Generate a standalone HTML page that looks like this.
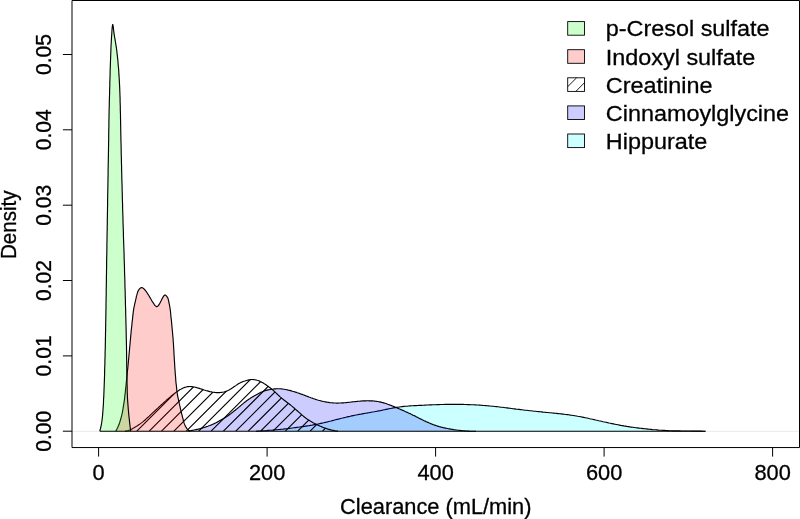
<!DOCTYPE html>
<html><head><meta charset="utf-8"><title>Density</title>
<style>
html,body{margin:0;padding:0;background:#fff}
svg{display:block}
text{font-family:"Liberation Sans",Arial,sans-serif;fill:#000;stroke:#000;stroke-width:0.3px}
</style></head><body>
<svg width="800" height="519" viewBox="0 0 800 519">
<rect width="800" height="519" fill="#fff"/>
<defs><clipPath id="cc"><path d="M125.0 431.2 L125.8 431.1 L126.7 431.0 L127.5 430.8 L128.3 430.6 L129.0 430.3 L129.8 430.0 L130.6 429.6 L131.3 429.3 L132.0 428.9 L132.8 428.5 L133.5 428.1 L134.2 427.7 L134.9 427.2 L135.6 426.8 L136.4 426.4 L137.1 425.9 L137.8 425.5 L138.4 425.0 L139.1 424.6 L139.8 424.1 L140.5 423.6 L141.1 423.1 L141.8 422.6 L142.4 422.1 L143.1 421.6 L143.7 421.1 L144.4 420.5 L145.0 420.0 L145.6 419.4 L146.2 418.9 L146.8 418.3 L147.4 417.8 L148.1 417.2 L148.7 416.6 L149.3 416.1 L149.9 415.5 L150.5 414.9 L151.1 414.4 L151.7 413.8 L152.3 413.2 L152.9 412.6 L153.5 412.1 L154.1 411.5 L154.7 411.0 L155.3 410.4 L156.0 409.8 L156.6 409.3 L157.2 408.7 L157.8 408.1 L158.4 407.6 L159.0 407.0 L159.6 406.4 L160.2 405.9 L160.8 405.3 L161.4 404.8 L162.1 404.2 L162.7 403.7 L163.3 403.1 L163.9 402.5 L164.5 402.0 L165.1 401.4 L165.7 400.9 L166.3 400.3 L166.9 399.8 L167.6 399.3 L168.2 398.7 L168.8 398.2 L169.4 397.6 L170.0 397.1 L170.7 396.6 L171.3 396.0 L171.9 395.5 L172.6 395.0 L173.2 394.5 L173.9 393.9 L174.5 393.4 L175.2 392.9 L175.9 392.4 L176.6 391.9 L177.3 391.4 L178.0 391.0 L178.7 390.5 L179.4 390.0 L180.1 389.6 L180.9 389.2 L181.6 388.8 L182.4 388.4 L183.1 388.0 L183.9 387.7 L184.7 387.4 L185.5 387.2 L186.2 387.0 L187.0 386.8 L187.8 386.6 L188.6 386.6 L189.4 386.5 L190.3 386.5 L191.1 386.6 L191.9 386.6 L192.7 386.7 L193.5 386.9 L194.3 387.0 L195.2 387.2 L196.0 387.4 L196.8 387.7 L197.6 387.9 L198.5 388.1 L199.3 388.4 L200.1 388.7 L200.9 388.9 L201.7 389.2 L202.5 389.4 L203.3 389.7 L204.1 390.0 L204.9 390.2 L205.7 390.5 L206.5 390.7 L207.4 390.9 L208.2 391.1 L209.0 391.4 L209.8 391.6 L210.6 391.7 L211.4 391.9 L212.2 392.1 L213.0 392.2 L213.8 392.3 L214.6 392.4 L215.4 392.5 L216.2 392.6 L217.1 392.6 L217.9 392.6 L218.7 392.6 L219.5 392.6 L220.4 392.5 L221.2 392.4 L222.0 392.3 L222.8 392.2 L223.7 392.0 L224.5 391.8 L225.3 391.6 L226.0 391.3 L226.8 391.0 L227.6 390.7 L228.3 390.3 L229.1 389.9 L229.8 389.5 L230.5 389.1 L231.2 388.7 L231.9 388.2 L232.6 387.8 L233.3 387.3 L234.0 386.8 L234.7 386.3 L235.4 385.9 L236.1 385.4 L236.7 384.9 L237.4 384.5 L238.1 384.0 L238.8 383.6 L239.5 383.2 L240.3 382.8 L241.0 382.4 L241.8 382.1 L242.5 381.8 L243.3 381.5 L244.1 381.2 L244.9 381.0 L245.7 380.7 L246.5 380.5 L247.3 380.3 L248.1 380.1 L248.9 379.9 L249.7 379.7 L250.5 379.6 L251.4 379.5 L252.2 379.5 L253.0 379.5 L253.8 379.6 L254.7 379.7 L255.5 379.9 L256.3 380.0 L257.1 380.3 L257.9 380.5 L258.7 380.8 L259.5 381.1 L260.2 381.5 L261.0 381.8 L261.7 382.2 L262.5 382.6 L263.2 383.0 L263.9 383.4 L264.6 383.9 L265.3 384.3 L266.0 384.8 L266.6 385.3 L267.3 385.8 L268.0 386.2 L268.7 386.7 L269.3 387.2 L270.0 387.7 L270.6 388.2 L271.3 388.8 L271.9 389.3 L272.6 389.8 L273.2 390.4 L273.8 390.9 L274.4 391.5 L275.0 392.0 L275.6 392.6 L276.2 393.2 L276.8 393.8 L277.4 394.3 L278.0 394.9 L278.6 395.5 L279.2 396.0 L279.8 396.6 L280.5 397.1 L281.1 397.7 L281.7 398.2 L282.4 398.7 L283.0 399.3 L283.6 399.8 L284.3 400.3 L285.0 400.8 L285.6 401.3 L286.3 401.8 L286.9 402.3 L287.6 402.8 L288.2 403.3 L288.9 403.8 L289.6 404.3 L290.2 404.8 L290.9 405.4 L291.5 405.9 L292.2 406.4 L292.8 406.9 L293.4 407.5 L294.1 408.0 L294.7 408.5 L295.3 409.1 L295.9 409.6 L296.6 410.2 L297.2 410.7 L297.8 411.3 L298.4 411.8 L299.0 412.4 L299.7 412.9 L300.3 413.5 L300.9 414.0 L301.5 414.6 L302.2 415.1 L302.8 415.6 L303.4 416.2 L304.1 416.7 L304.7 417.2 L305.4 417.7 L306.0 418.2 L306.7 418.7 L307.4 419.2 L308.1 419.6 L308.8 420.1 L309.5 420.5 L310.2 421.0 L310.9 421.4 L311.6 421.8 L312.3 422.3 L313.0 422.7 L313.8 423.1 L314.5 423.5 L315.2 423.8 L316.0 424.2 L316.7 424.6 L317.5 424.9 L318.2 425.3 L319.0 425.6 L319.7 426.0 L320.5 426.3 L321.3 426.6 L322.0 426.9 L322.8 427.3 L323.6 427.6 L324.3 427.9 L325.1 428.1 L325.9 428.4 L326.7 428.7 L327.5 428.9 L328.3 429.2 L329.1 429.4 L329.9 429.6 L330.7 429.8 L331.5 430.1 L332.3 430.2 L333.1 430.4 L333.9 430.6 L334.7 430.7 L335.5 430.9 L336.3 431.0 L337.2 431.1 L338.0 431.2 Z"/></clipPath></defs>
<line x1="72" y1="431.4" x2="799" y2="431.4" stroke="#ebebeb" stroke-width="1"/>
<g stroke="#000" stroke-width="1.15" stroke-linejoin="round" fill="none">
<path d="M256.0 431.2 L257.5 431.1 L259.0 431.0 L260.5 431.0 L262.1 430.9 L263.6 430.8 L265.1 430.7 L266.6 430.6 L268.1 430.4 L269.6 430.3 L271.1 430.2 L272.7 430.1 L274.2 429.9 L275.7 429.8 L277.2 429.7 L278.7 429.5 L280.2 429.4 L281.7 429.2 L283.2 429.1 L284.7 428.9 L286.2 428.7 L287.8 428.6 L289.3 428.4 L290.8 428.2 L292.3 428.0 L293.8 427.8 L295.3 427.6 L296.8 427.4 L298.3 427.2 L299.8 427.0 L301.3 426.8 L302.8 426.6 L304.3 426.4 L305.8 426.1 L307.3 425.9 L308.8 425.7 L310.3 425.4 L311.8 425.2 L313.3 424.9 L314.8 424.6 L316.3 424.3 L317.8 424.1 L319.3 423.7 L320.7 423.4 L322.2 423.1 L323.7 422.8 L325.2 422.4 L326.6 422.1 L328.1 421.7 L329.6 421.3 L331.1 421.0 L332.5 420.6 L334.0 420.2 L335.5 419.8 L336.9 419.4 L338.4 419.1 L339.9 418.7 L341.4 418.3 L342.8 418.0 L344.3 417.6 L345.8 417.3 L347.3 416.9 L348.8 416.6 L350.2 416.3 L351.7 415.9 L353.2 415.6 L354.7 415.3 L356.2 415.0 L357.7 414.7 L359.2 414.4 L360.6 414.2 L362.1 413.9 L363.6 413.6 L365.1 413.3 L366.6 413.1 L368.1 412.8 L369.6 412.6 L371.1 412.3 L372.6 412.0 L374.1 411.8 L375.6 411.5 L377.1 411.2 L378.6 410.9 L380.1 410.7 L381.5 410.4 L383.0 410.0 L384.5 409.7 L386.0 409.4 L387.5 409.1 L389.0 408.8 L390.5 408.5 L391.9 408.2 L393.4 407.9 L394.9 407.6 L396.4 407.4 L397.9 407.2 L399.4 407.0 L400.9 406.8 L402.4 406.6 L403.9 406.4 L405.5 406.3 L407.0 406.2 L408.5 406.0 L410.0 405.9 L411.5 405.8 L413.0 405.7 L414.6 405.6 L416.1 405.6 L417.6 405.5 L419.1 405.4 L420.6 405.3 L422.1 405.3 L423.7 405.2 L425.2 405.1 L426.7 405.0 L428.2 405.0 L429.7 404.9 L431.2 404.9 L432.8 404.8 L434.3 404.7 L435.8 404.7 L437.3 404.6 L438.8 404.6 L440.3 404.5 L441.9 404.5 L443.4 404.5 L444.9 404.4 L446.4 404.4 L447.9 404.4 L449.4 404.4 L451.0 404.4 L452.5 404.4 L454.0 404.4 L455.5 404.4 L457.0 404.4 L458.5 404.4 L460.1 404.4 L461.6 404.4 L463.1 404.4 L464.6 404.5 L466.1 404.5 L467.7 404.6 L469.2 404.6 L470.7 404.7 L472.2 404.7 L473.7 404.8 L475.2 404.9 L476.7 405.0 L478.3 405.0 L479.8 405.1 L481.3 405.2 L482.8 405.4 L484.3 405.5 L485.8 405.6 L487.3 405.7 L488.9 405.9 L490.4 406.0 L491.9 406.2 L493.4 406.3 L494.9 406.5 L496.4 406.6 L497.9 406.8 L499.4 407.0 L500.9 407.2 L502.4 407.3 L503.9 407.5 L505.4 407.7 L507.0 407.9 L508.5 408.1 L510.0 408.3 L511.5 408.5 L513.0 408.7 L514.5 408.9 L516.0 409.1 L517.5 409.2 L519.0 409.4 L520.5 409.6 L522.0 409.8 L523.5 410.0 L525.0 410.2 L526.5 410.3 L528.0 410.5 L529.5 410.7 L531.1 410.8 L532.6 411.0 L534.1 411.2 L535.6 411.3 L537.1 411.5 L538.6 411.6 L540.1 411.8 L541.6 411.9 L543.1 412.1 L544.6 412.2 L546.1 412.4 L547.7 412.5 L549.2 412.7 L550.7 412.8 L552.2 413.0 L553.7 413.1 L555.2 413.3 L556.7 413.4 L558.2 413.6 L559.7 413.8 L561.3 413.9 L562.8 414.1 L564.3 414.3 L565.8 414.5 L567.3 414.6 L568.8 414.8 L570.3 415.1 L571.8 415.3 L573.3 415.5 L574.8 415.7 L576.3 416.0 L577.8 416.3 L579.3 416.5 L580.8 416.8 L582.2 417.1 L583.7 417.4 L585.2 417.7 L586.7 418.0 L588.2 418.3 L589.7 418.7 L591.2 419.0 L592.6 419.3 L594.1 419.6 L595.6 420.0 L597.1 420.3 L598.6 420.7 L600.0 421.0 L601.5 421.3 L603.0 421.7 L604.5 422.0 L606.0 422.3 L607.5 422.6 L608.9 423.0 L610.4 423.3 L611.9 423.6 L613.4 423.9 L614.9 424.2 L616.4 424.5 L617.9 424.8 L619.4 425.1 L620.8 425.4 L622.3 425.6 L623.8 425.9 L625.3 426.1 L626.8 426.4 L628.3 426.6 L629.8 426.9 L631.3 427.1 L632.8 427.3 L634.3 427.5 L635.8 427.7 L637.3 427.9 L638.8 428.1 L640.4 428.3 L641.9 428.4 L643.4 428.6 L644.9 428.8 L646.4 428.9 L647.9 429.1 L649.4 429.3 L650.9 429.4 L652.4 429.6 L653.9 429.7 L655.5 429.8 L657.0 429.9 L658.5 430.1 L660.0 430.2 L661.5 430.3 L663.0 430.4 L664.5 430.4 L666.0 430.5 L667.6 430.6 L669.1 430.7 L670.6 430.7 L672.1 430.8 L673.6 430.8 L675.1 430.8 L676.7 430.9 L678.2 430.9 L679.7 430.9 L681.2 431.0 L682.7 431.0 L684.3 431.0 L685.8 431.0 L687.3 431.0 L688.8 431.0 L690.3 431.0 L691.8 431.1 L693.4 431.1 L694.9 431.1 L696.4 431.1 L697.9 431.1 L699.4 431.1 L701.0 431.1 L702.5 431.2 L704.0 431.2 L705.5 431.2 Z" fill="rgba(0,255,255,0.2)" stroke="none"/>
<path d="M256.0 431.2 L257.5 431.1 L259.0 431.0 L260.5 431.0 L262.1 430.9 L263.6 430.8 L265.1 430.7 L266.6 430.6 L268.1 430.4 L269.6 430.3 L271.1 430.2 L272.7 430.1 L274.2 429.9 L275.7 429.8 L277.2 429.7 L278.7 429.5 L280.2 429.4 L281.7 429.2 L283.2 429.1 L284.7 428.9 L286.2 428.7 L287.8 428.6 L289.3 428.4 L290.8 428.2 L292.3 428.0 L293.8 427.8 L295.3 427.6 L296.8 427.4 L298.3 427.2 L299.8 427.0 L301.3 426.8 L302.8 426.6 L304.3 426.4 L305.8 426.1 L307.3 425.9 L308.8 425.7 L310.3 425.4 L311.8 425.2 L313.3 424.9 L314.8 424.6 L316.3 424.3 L317.8 424.1 L319.3 423.7 L320.7 423.4 L322.2 423.1 L323.7 422.8 L325.2 422.4 L326.6 422.1 L328.1 421.7 L329.6 421.3 L331.1 421.0 L332.5 420.6 L334.0 420.2 L335.5 419.8 L336.9 419.4 L338.4 419.1 L339.9 418.7 L341.4 418.3 L342.8 418.0 L344.3 417.6 L345.8 417.3 L347.3 416.9 L348.8 416.6 L350.2 416.3 L351.7 415.9 L353.2 415.6 L354.7 415.3 L356.2 415.0 L357.7 414.7 L359.2 414.4 L360.6 414.2 L362.1 413.9 L363.6 413.6 L365.1 413.3 L366.6 413.1 L368.1 412.8 L369.6 412.6 L371.1 412.3 L372.6 412.0 L374.1 411.8 L375.6 411.5 L377.1 411.2 L378.6 410.9 L380.1 410.7 L381.5 410.4 L383.0 410.0 L384.5 409.7 L386.0 409.4 L387.5 409.1 L389.0 408.8 L390.5 408.5 L391.9 408.2 L393.4 407.9 L394.9 407.6 L396.4 407.4 L397.9 407.2 L399.4 407.0 L400.9 406.8 L402.4 406.6 L403.9 406.4 L405.5 406.3 L407.0 406.2 L408.5 406.0 L410.0 405.9 L411.5 405.8 L413.0 405.7 L414.6 405.6 L416.1 405.6 L417.6 405.5 L419.1 405.4 L420.6 405.3 L422.1 405.3 L423.7 405.2 L425.2 405.1 L426.7 405.0 L428.2 405.0 L429.7 404.9 L431.2 404.9 L432.8 404.8 L434.3 404.7 L435.8 404.7 L437.3 404.6 L438.8 404.6 L440.3 404.5 L441.9 404.5 L443.4 404.5 L444.9 404.4 L446.4 404.4 L447.9 404.4 L449.4 404.4 L451.0 404.4 L452.5 404.4 L454.0 404.4 L455.5 404.4 L457.0 404.4 L458.5 404.4 L460.1 404.4 L461.6 404.4 L463.1 404.4 L464.6 404.5 L466.1 404.5 L467.7 404.6 L469.2 404.6 L470.7 404.7 L472.2 404.7 L473.7 404.8 L475.2 404.9 L476.7 405.0 L478.3 405.0 L479.8 405.1 L481.3 405.2 L482.8 405.4 L484.3 405.5 L485.8 405.6 L487.3 405.7 L488.9 405.9 L490.4 406.0 L491.9 406.2 L493.4 406.3 L494.9 406.5 L496.4 406.6 L497.9 406.8 L499.4 407.0 L500.9 407.2 L502.4 407.3 L503.9 407.5 L505.4 407.7 L507.0 407.9 L508.5 408.1 L510.0 408.3 L511.5 408.5 L513.0 408.7 L514.5 408.9 L516.0 409.1 L517.5 409.2 L519.0 409.4 L520.5 409.6 L522.0 409.8 L523.5 410.0 L525.0 410.2 L526.5 410.3 L528.0 410.5 L529.5 410.7 L531.1 410.8 L532.6 411.0 L534.1 411.2 L535.6 411.3 L537.1 411.5 L538.6 411.6 L540.1 411.8 L541.6 411.9 L543.1 412.1 L544.6 412.2 L546.1 412.4 L547.7 412.5 L549.2 412.7 L550.7 412.8 L552.2 413.0 L553.7 413.1 L555.2 413.3 L556.7 413.4 L558.2 413.6 L559.7 413.8 L561.3 413.9 L562.8 414.1 L564.3 414.3 L565.8 414.5 L567.3 414.6 L568.8 414.8 L570.3 415.1 L571.8 415.3 L573.3 415.5 L574.8 415.7 L576.3 416.0 L577.8 416.3 L579.3 416.5 L580.8 416.8 L582.2 417.1 L583.7 417.4 L585.2 417.7 L586.7 418.0 L588.2 418.3 L589.7 418.7 L591.2 419.0 L592.6 419.3 L594.1 419.6 L595.6 420.0 L597.1 420.3 L598.6 420.7 L600.0 421.0 L601.5 421.3 L603.0 421.7 L604.5 422.0 L606.0 422.3 L607.5 422.6 L608.9 423.0 L610.4 423.3 L611.9 423.6 L613.4 423.9 L614.9 424.2 L616.4 424.5 L617.9 424.8 L619.4 425.1 L620.8 425.4 L622.3 425.6 L623.8 425.9 L625.3 426.1 L626.8 426.4 L628.3 426.6 L629.8 426.9 L631.3 427.1 L632.8 427.3 L634.3 427.5 L635.8 427.7 L637.3 427.9 L638.8 428.1 L640.4 428.3 L641.9 428.4 L643.4 428.6 L644.9 428.8 L646.4 428.9 L647.9 429.1 L649.4 429.3 L650.9 429.4 L652.4 429.6 L653.9 429.7 L655.5 429.8 L657.0 429.9 L658.5 430.1 L660.0 430.2 L661.5 430.3 L663.0 430.4 L664.5 430.4 L666.0 430.5 L667.6 430.6 L669.1 430.7 L670.6 430.7 L672.1 430.8 L673.6 430.8 L675.1 430.8 L676.7 430.9 L678.2 430.9 L679.7 430.9 L681.2 431.0 L682.7 431.0 L684.3 431.0 L685.8 431.0 L687.3 431.0 L688.8 431.0 L690.3 431.0 L691.8 431.1 L693.4 431.1 L694.9 431.1 L696.4 431.1 L697.9 431.1 L699.4 431.1 L701.0 431.1 L702.5 431.2 L704.0 431.2 L705.5 431.2"/>
<path d="M188.0 431.0 L189.0 430.9 L190.0 430.7 L191.1 430.6 L192.1 430.4 L193.1 430.2 L194.1 430.0 L195.1 429.8 L196.1 429.6 L197.1 429.4 L198.1 429.2 L199.1 428.9 L200.1 428.7 L201.1 428.4 L202.1 428.1 L203.1 427.8 L204.0 427.5 L205.0 427.2 L206.0 426.9 L207.0 426.5 L207.9 426.2 L208.9 425.8 L209.8 425.5 L210.8 425.1 L211.7 424.7 L212.7 424.3 L213.6 423.9 L214.5 423.4 L215.5 423.0 L216.4 422.5 L217.3 422.1 L218.2 421.6 L219.1 421.1 L220.0 420.6 L220.9 420.1 L221.8 419.6 L222.7 419.1 L223.6 418.6 L224.5 418.0 L225.3 417.5 L226.2 416.9 L227.0 416.4 L227.9 415.8 L228.7 415.2 L229.6 414.6 L230.4 414.0 L231.2 413.4 L232.0 412.7 L232.8 412.1 L233.6 411.5 L234.4 410.8 L235.2 410.2 L236.0 409.5 L236.8 408.9 L237.6 408.2 L238.4 407.6 L239.2 406.9 L240.0 406.2 L240.7 405.6 L241.5 404.9 L242.3 404.2 L243.1 403.6 L243.9 402.9 L244.7 402.3 L245.5 401.7 L246.3 401.0 L247.1 400.4 L248.0 399.8 L248.8 399.2 L249.7 398.7 L250.5 398.1 L251.4 397.6 L252.3 397.1 L253.2 396.5 L254.1 396.0 L255.0 395.5 L255.9 395.0 L256.8 394.5 L257.7 394.0 L258.6 393.5 L259.5 393.0 L260.4 392.6 L261.3 392.1 L262.3 391.7 L263.2 391.3 L264.2 391.0 L265.1 390.7 L266.1 390.4 L267.1 390.1 L268.1 389.9 L269.1 389.7 L270.1 389.5 L271.2 389.3 L272.2 389.2 L273.2 389.1 L274.2 388.9 L275.3 388.8 L276.3 388.8 L277.3 388.7 L278.3 388.7 L279.3 388.7 L280.4 388.8 L281.4 388.9 L282.4 389.0 L283.4 389.2 L284.4 389.3 L285.5 389.5 L286.5 389.7 L287.5 389.9 L288.5 390.2 L289.5 390.4 L290.5 390.6 L291.5 390.9 L292.4 391.2 L293.4 391.5 L294.4 391.8 L295.4 392.1 L296.4 392.4 L297.3 392.7 L298.3 393.0 L299.3 393.4 L300.3 393.7 L301.2 394.1 L302.2 394.4 L303.2 394.8 L304.1 395.1 L305.1 395.5 L306.0 395.9 L307.0 396.2 L308.0 396.6 L308.9 397.0 L309.9 397.3 L310.8 397.7 L311.8 398.0 L312.8 398.4 L313.7 398.7 L314.7 399.0 L315.7 399.4 L316.7 399.7 L317.6 400.0 L318.6 400.3 L319.6 400.5 L320.6 400.8 L321.6 401.1 L322.6 401.3 L323.6 401.5 L324.6 401.7 L325.6 401.9 L326.6 402.1 L327.7 402.3 L328.7 402.4 L329.7 402.6 L330.7 402.7 L331.7 402.8 L332.8 402.9 L333.8 403.0 L334.8 403.0 L335.8 403.0 L336.9 403.1 L337.9 403.1 L338.9 403.0 L339.9 403.0 L341.0 403.0 L342.0 402.9 L343.0 402.8 L344.0 402.8 L345.1 402.7 L346.1 402.6 L347.1 402.5 L348.1 402.4 L349.2 402.3 L350.2 402.2 L351.2 402.0 L352.2 401.9 L353.2 401.8 L354.3 401.7 L355.3 401.6 L356.3 401.5 L357.3 401.4 L358.3 401.3 L359.4 401.2 L360.4 401.1 L361.4 401.0 L362.4 400.9 L363.5 400.9 L364.5 400.8 L365.5 400.8 L366.5 400.8 L367.6 400.7 L368.6 400.8 L369.6 400.8 L370.7 400.8 L371.7 400.9 L372.7 400.9 L373.7 401.0 L374.8 401.1 L375.8 401.2 L376.8 401.4 L377.8 401.5 L378.8 401.7 L379.8 401.9 L380.8 402.1 L381.8 402.4 L382.8 402.6 L383.8 402.9 L384.8 403.2 L385.8 403.5 L386.7 403.8 L387.7 404.2 L388.7 404.5 L389.6 404.9 L390.6 405.2 L391.6 405.6 L392.5 406.0 L393.5 406.4 L394.4 406.8 L395.4 407.2 L396.3 407.6 L397.3 408.0 L398.2 408.4 L399.1 408.8 L400.1 409.2 L401.0 409.6 L402.0 410.0 L402.9 410.4 L403.8 410.8 L404.8 411.3 L405.7 411.7 L406.7 412.1 L407.6 412.5 L408.5 413.0 L409.4 413.4 L410.4 413.8 L411.3 414.3 L412.2 414.7 L413.1 415.2 L414.1 415.6 L415.0 416.1 L415.9 416.6 L416.8 417.0 L417.7 417.5 L418.6 417.9 L419.6 418.4 L420.5 418.9 L421.4 419.3 L422.3 419.8 L423.2 420.2 L424.2 420.7 L425.1 421.1 L426.0 421.6 L427.0 422.0 L427.9 422.4 L428.8 422.8 L429.8 423.2 L430.7 423.6 L431.7 424.0 L432.6 424.4 L433.6 424.8 L434.6 425.1 L435.5 425.4 L436.5 425.8 L437.5 426.1 L438.5 426.4 L439.4 426.7 L440.4 426.9 L441.4 427.2 L442.4 427.4 L443.4 427.7 L444.4 427.9 L445.4 428.1 L446.4 428.3 L447.4 428.5 L448.4 428.7 L449.5 428.9 L450.5 429.1 L451.5 429.3 L452.5 429.4 L453.5 429.6 L454.5 429.7 L455.5 429.9 L456.6 430.0 L457.6 430.2 L458.6 430.3 L459.6 430.4 L460.6 430.5 L461.6 430.6 L462.7 430.7 L463.7 430.8 L464.7 430.9 L465.7 431.0 L466.8 431.0 L467.8 431.1 L468.8 431.1 L469.8 431.2 L470.9 431.2 L471.9 431.2 L472.9 431.2 L473.9 431.2 L475.0 431.2 L476.0 431.2 Z" fill="rgba(0,0,255,0.2)" stroke="none"/>
<path d="M188.0 431.0 L189.0 430.9 L190.0 430.7 L191.1 430.6 L192.1 430.4 L193.1 430.2 L194.1 430.0 L195.1 429.8 L196.1 429.6 L197.1 429.4 L198.1 429.2 L199.1 428.9 L200.1 428.7 L201.1 428.4 L202.1 428.1 L203.1 427.8 L204.0 427.5 L205.0 427.2 L206.0 426.9 L207.0 426.5 L207.9 426.2 L208.9 425.8 L209.8 425.5 L210.8 425.1 L211.7 424.7 L212.7 424.3 L213.6 423.9 L214.5 423.4 L215.5 423.0 L216.4 422.5 L217.3 422.1 L218.2 421.6 L219.1 421.1 L220.0 420.6 L220.9 420.1 L221.8 419.6 L222.7 419.1 L223.6 418.6 L224.5 418.0 L225.3 417.5 L226.2 416.9 L227.0 416.4 L227.9 415.8 L228.7 415.2 L229.6 414.6 L230.4 414.0 L231.2 413.4 L232.0 412.7 L232.8 412.1 L233.6 411.5 L234.4 410.8 L235.2 410.2 L236.0 409.5 L236.8 408.9 L237.6 408.2 L238.4 407.6 L239.2 406.9 L240.0 406.2 L240.7 405.6 L241.5 404.9 L242.3 404.2 L243.1 403.6 L243.9 402.9 L244.7 402.3 L245.5 401.7 L246.3 401.0 L247.1 400.4 L248.0 399.8 L248.8 399.2 L249.7 398.7 L250.5 398.1 L251.4 397.6 L252.3 397.1 L253.2 396.5 L254.1 396.0 L255.0 395.5 L255.9 395.0 L256.8 394.5 L257.7 394.0 L258.6 393.5 L259.5 393.0 L260.4 392.6 L261.3 392.1 L262.3 391.7 L263.2 391.3 L264.2 391.0 L265.1 390.7 L266.1 390.4 L267.1 390.1 L268.1 389.9 L269.1 389.7 L270.1 389.5 L271.2 389.3 L272.2 389.2 L273.2 389.1 L274.2 388.9 L275.3 388.8 L276.3 388.8 L277.3 388.7 L278.3 388.7 L279.3 388.7 L280.4 388.8 L281.4 388.9 L282.4 389.0 L283.4 389.2 L284.4 389.3 L285.5 389.5 L286.5 389.7 L287.5 389.9 L288.5 390.2 L289.5 390.4 L290.5 390.6 L291.5 390.9 L292.4 391.2 L293.4 391.5 L294.4 391.8 L295.4 392.1 L296.4 392.4 L297.3 392.7 L298.3 393.0 L299.3 393.4 L300.3 393.7 L301.2 394.1 L302.2 394.4 L303.2 394.8 L304.1 395.1 L305.1 395.5 L306.0 395.9 L307.0 396.2 L308.0 396.6 L308.9 397.0 L309.9 397.3 L310.8 397.7 L311.8 398.0 L312.8 398.4 L313.7 398.7 L314.7 399.0 L315.7 399.4 L316.7 399.7 L317.6 400.0 L318.6 400.3 L319.6 400.5 L320.6 400.8 L321.6 401.1 L322.6 401.3 L323.6 401.5 L324.6 401.7 L325.6 401.9 L326.6 402.1 L327.7 402.3 L328.7 402.4 L329.7 402.6 L330.7 402.7 L331.7 402.8 L332.8 402.9 L333.8 403.0 L334.8 403.0 L335.8 403.0 L336.9 403.1 L337.9 403.1 L338.9 403.0 L339.9 403.0 L341.0 403.0 L342.0 402.9 L343.0 402.8 L344.0 402.8 L345.1 402.7 L346.1 402.6 L347.1 402.5 L348.1 402.4 L349.2 402.3 L350.2 402.2 L351.2 402.0 L352.2 401.9 L353.2 401.8 L354.3 401.7 L355.3 401.6 L356.3 401.5 L357.3 401.4 L358.3 401.3 L359.4 401.2 L360.4 401.1 L361.4 401.0 L362.4 400.9 L363.5 400.9 L364.5 400.8 L365.5 400.8 L366.5 400.8 L367.6 400.7 L368.6 400.8 L369.6 400.8 L370.7 400.8 L371.7 400.9 L372.7 400.9 L373.7 401.0 L374.8 401.1 L375.8 401.2 L376.8 401.4 L377.8 401.5 L378.8 401.7 L379.8 401.9 L380.8 402.1 L381.8 402.4 L382.8 402.6 L383.8 402.9 L384.8 403.2 L385.8 403.5 L386.7 403.8 L387.7 404.2 L388.7 404.5 L389.6 404.9 L390.6 405.2 L391.6 405.6 L392.5 406.0 L393.5 406.4 L394.4 406.8 L395.4 407.2 L396.3 407.6 L397.3 408.0 L398.2 408.4 L399.1 408.8 L400.1 409.2 L401.0 409.6 L402.0 410.0 L402.9 410.4 L403.8 410.8 L404.8 411.3 L405.7 411.7 L406.7 412.1 L407.6 412.5 L408.5 413.0 L409.4 413.4 L410.4 413.8 L411.3 414.3 L412.2 414.7 L413.1 415.2 L414.1 415.6 L415.0 416.1 L415.9 416.6 L416.8 417.0 L417.7 417.5 L418.6 417.9 L419.6 418.4 L420.5 418.9 L421.4 419.3 L422.3 419.8 L423.2 420.2 L424.2 420.7 L425.1 421.1 L426.0 421.6 L427.0 422.0 L427.9 422.4 L428.8 422.8 L429.8 423.2 L430.7 423.6 L431.7 424.0 L432.6 424.4 L433.6 424.8 L434.6 425.1 L435.5 425.4 L436.5 425.8 L437.5 426.1 L438.5 426.4 L439.4 426.7 L440.4 426.9 L441.4 427.2 L442.4 427.4 L443.4 427.7 L444.4 427.9 L445.4 428.1 L446.4 428.3 L447.4 428.5 L448.4 428.7 L449.5 428.9 L450.5 429.1 L451.5 429.3 L452.5 429.4 L453.5 429.6 L454.5 429.7 L455.5 429.9 L456.6 430.0 L457.6 430.2 L458.6 430.3 L459.6 430.4 L460.6 430.5 L461.6 430.6 L462.7 430.7 L463.7 430.8 L464.7 430.9 L465.7 431.0 L466.8 431.0 L467.8 431.1 L468.8 431.1 L469.8 431.2 L470.9 431.2 L471.9 431.2 L472.9 431.2 L473.9 431.2 L475.0 431.2 L476.0 431.2"/>
<path d="M37.7 431.2 L98.9 370.0 M50.1 431.2 L111.3 370.0 M62.5 431.2 L123.7 370.0 M74.9 431.2 L136.1 370.0 M87.3 431.2 L148.5 370.0 M99.6 431.2 L160.8 370.0 M112.0 431.2 L173.2 370.0 M124.4 431.2 L185.6 370.0 M136.8 431.2 L198.0 370.0 M149.2 431.2 L210.4 370.0 M161.5 431.2 L222.7 370.0 M173.9 431.2 L235.1 370.0 M186.3 431.2 L247.5 370.0 M198.7 431.2 L259.9 370.0 M211.1 431.2 L272.3 370.0 M223.4 431.2 L284.6 370.0 M235.8 431.2 L297.0 370.0 M248.2 431.2 L309.4 370.0 M260.6 431.2 L321.8 370.0 M273.0 431.2 L334.2 370.0 M285.3 431.2 L346.5 370.0 M297.7 431.2 L358.9 370.0 M310.1 431.2 L371.3 370.0 M322.5 431.2 L383.7 370.0" clip-path="url(#cc)"/>
<path d="M125.0 431.2 L125.8 431.1 L126.7 431.0 L127.5 430.8 L128.3 430.6 L129.0 430.3 L129.8 430.0 L130.6 429.6 L131.3 429.3 L132.0 428.9 L132.8 428.5 L133.5 428.1 L134.2 427.7 L134.9 427.2 L135.6 426.8 L136.4 426.4 L137.1 425.9 L137.8 425.5 L138.4 425.0 L139.1 424.6 L139.8 424.1 L140.5 423.6 L141.1 423.1 L141.8 422.6 L142.4 422.1 L143.1 421.6 L143.7 421.1 L144.4 420.5 L145.0 420.0 L145.6 419.4 L146.2 418.9 L146.8 418.3 L147.4 417.8 L148.1 417.2 L148.7 416.6 L149.3 416.1 L149.9 415.5 L150.5 414.9 L151.1 414.4 L151.7 413.8 L152.3 413.2 L152.9 412.6 L153.5 412.1 L154.1 411.5 L154.7 411.0 L155.3 410.4 L156.0 409.8 L156.6 409.3 L157.2 408.7 L157.8 408.1 L158.4 407.6 L159.0 407.0 L159.6 406.4 L160.2 405.9 L160.8 405.3 L161.4 404.8 L162.1 404.2 L162.7 403.7 L163.3 403.1 L163.9 402.5 L164.5 402.0 L165.1 401.4 L165.7 400.9 L166.3 400.3 L166.9 399.8 L167.6 399.3 L168.2 398.7 L168.8 398.2 L169.4 397.6 L170.0 397.1 L170.7 396.6 L171.3 396.0 L171.9 395.5 L172.6 395.0 L173.2 394.5 L173.9 393.9 L174.5 393.4 L175.2 392.9 L175.9 392.4 L176.6 391.9 L177.3 391.4 L178.0 391.0 L178.7 390.5 L179.4 390.0 L180.1 389.6 L180.9 389.2 L181.6 388.8 L182.4 388.4 L183.1 388.0 L183.9 387.7 L184.7 387.4 L185.5 387.2 L186.2 387.0 L187.0 386.8 L187.8 386.6 L188.6 386.6 L189.4 386.5 L190.3 386.5 L191.1 386.6 L191.9 386.6 L192.7 386.7 L193.5 386.9 L194.3 387.0 L195.2 387.2 L196.0 387.4 L196.8 387.7 L197.6 387.9 L198.5 388.1 L199.3 388.4 L200.1 388.7 L200.9 388.9 L201.7 389.2 L202.5 389.4 L203.3 389.7 L204.1 390.0 L204.9 390.2 L205.7 390.5 L206.5 390.7 L207.4 390.9 L208.2 391.1 L209.0 391.4 L209.8 391.6 L210.6 391.7 L211.4 391.9 L212.2 392.1 L213.0 392.2 L213.8 392.3 L214.6 392.4 L215.4 392.5 L216.2 392.6 L217.1 392.6 L217.9 392.6 L218.7 392.6 L219.5 392.6 L220.4 392.5 L221.2 392.4 L222.0 392.3 L222.8 392.2 L223.7 392.0 L224.5 391.8 L225.3 391.6 L226.0 391.3 L226.8 391.0 L227.6 390.7 L228.3 390.3 L229.1 389.9 L229.8 389.5 L230.5 389.1 L231.2 388.7 L231.9 388.2 L232.6 387.8 L233.3 387.3 L234.0 386.8 L234.7 386.3 L235.4 385.9 L236.1 385.4 L236.7 384.9 L237.4 384.5 L238.1 384.0 L238.8 383.6 L239.5 383.2 L240.3 382.8 L241.0 382.4 L241.8 382.1 L242.5 381.8 L243.3 381.5 L244.1 381.2 L244.9 381.0 L245.7 380.7 L246.5 380.5 L247.3 380.3 L248.1 380.1 L248.9 379.9 L249.7 379.7 L250.5 379.6 L251.4 379.5 L252.2 379.5 L253.0 379.5 L253.8 379.6 L254.7 379.7 L255.5 379.9 L256.3 380.0 L257.1 380.3 L257.9 380.5 L258.7 380.8 L259.5 381.1 L260.2 381.5 L261.0 381.8 L261.7 382.2 L262.5 382.6 L263.2 383.0 L263.9 383.4 L264.6 383.9 L265.3 384.3 L266.0 384.8 L266.6 385.3 L267.3 385.8 L268.0 386.2 L268.7 386.7 L269.3 387.2 L270.0 387.7 L270.6 388.2 L271.3 388.8 L271.9 389.3 L272.6 389.8 L273.2 390.4 L273.8 390.9 L274.4 391.5 L275.0 392.0 L275.6 392.6 L276.2 393.2 L276.8 393.8 L277.4 394.3 L278.0 394.9 L278.6 395.5 L279.2 396.0 L279.8 396.6 L280.5 397.1 L281.1 397.7 L281.7 398.2 L282.4 398.7 L283.0 399.3 L283.6 399.8 L284.3 400.3 L285.0 400.8 L285.6 401.3 L286.3 401.8 L286.9 402.3 L287.6 402.8 L288.2 403.3 L288.9 403.8 L289.6 404.3 L290.2 404.8 L290.9 405.4 L291.5 405.9 L292.2 406.4 L292.8 406.9 L293.4 407.5 L294.1 408.0 L294.7 408.5 L295.3 409.1 L295.9 409.6 L296.6 410.2 L297.2 410.7 L297.8 411.3 L298.4 411.8 L299.0 412.4 L299.7 412.9 L300.3 413.5 L300.9 414.0 L301.5 414.6 L302.2 415.1 L302.8 415.6 L303.4 416.2 L304.1 416.7 L304.7 417.2 L305.4 417.7 L306.0 418.2 L306.7 418.7 L307.4 419.2 L308.1 419.6 L308.8 420.1 L309.5 420.5 L310.2 421.0 L310.9 421.4 L311.6 421.8 L312.3 422.3 L313.0 422.7 L313.8 423.1 L314.5 423.5 L315.2 423.8 L316.0 424.2 L316.7 424.6 L317.5 424.9 L318.2 425.3 L319.0 425.6 L319.7 426.0 L320.5 426.3 L321.3 426.6 L322.0 426.9 L322.8 427.3 L323.6 427.6 L324.3 427.9 L325.1 428.1 L325.9 428.4 L326.7 428.7 L327.5 428.9 L328.3 429.2 L329.1 429.4 L329.9 429.6 L330.7 429.8 L331.5 430.1 L332.3 430.2 L333.1 430.4 L333.9 430.6 L334.7 430.7 L335.5 430.9 L336.3 431.0 L337.2 431.1 L338.0 431.2"/>
<path d="M115.8 431.2 L116.3 430.2 L116.8 429.3 L117.3 428.3 L117.8 427.3 L118.2 426.3 L118.7 425.3 L119.1 424.3 L119.4 423.2 L119.8 422.2 L120.1 421.1 L120.4 420.1 L120.7 419.0 L121.0 418.0 L121.3 416.9 L121.6 415.9 L121.8 414.8 L122.1 413.7 L122.3 412.7 L122.5 411.6 L122.7 410.5 L122.9 409.4 L123.1 408.3 L123.2 407.3 L123.4 406.2 L123.6 405.1 L123.8 404.0 L123.9 402.9 L124.1 401.8 L124.3 400.8 L124.4 399.7 L124.6 398.6 L124.7 397.5 L124.8 396.4 L124.9 395.3 L125.1 394.2 L125.2 393.2 L125.3 392.1 L125.4 391.0 L125.5 389.9 L125.6 388.8 L125.7 387.7 L125.9 386.6 L126.0 385.5 L126.1 384.4 L126.2 383.4 L126.3 382.3 L126.4 381.2 L126.6 380.1 L126.7 379.0 L126.8 377.9 L126.9 376.8 L127.0 375.7 L127.1 374.6 L127.2 373.5 L127.3 372.5 L127.4 371.4 L127.5 370.3 L127.7 369.2 L127.8 368.1 L127.9 367.0 L128.0 365.9 L128.1 364.8 L128.2 363.7 L128.3 362.6 L128.4 361.6 L128.5 360.5 L128.6 359.4 L128.7 358.3 L128.8 357.2 L128.9 356.1 L129.0 355.0 L129.1 353.9 L129.2 352.8 L129.3 351.7 L129.4 350.7 L129.5 349.6 L129.6 348.5 L129.7 347.4 L129.8 346.3 L129.9 345.2 L130.0 344.1 L130.1 343.0 L130.2 341.9 L130.3 340.8 L130.4 339.7 L130.5 338.7 L130.6 337.6 L130.7 336.5 L130.8 335.4 L130.9 334.3 L131.0 333.2 L131.1 332.1 L131.2 331.0 L131.3 329.9 L131.4 328.9 L131.6 327.8 L131.7 326.7 L131.8 325.6 L131.9 324.5 L132.0 323.4 L132.1 322.3 L132.2 321.2 L132.4 320.1 L132.5 319.1 L132.6 318.0 L132.7 316.9 L132.8 315.8 L133.0 314.7 L133.1 313.6 L133.2 312.5 L133.3 311.4 L133.5 310.3 L133.7 309.3 L133.8 308.2 L134.1 307.1 L134.3 306.0 L134.5 305.0 L134.7 303.9 L135.0 302.8 L135.2 301.8 L135.5 300.7 L135.7 299.6 L136.0 298.6 L136.2 297.5 L136.4 296.4 L136.7 295.4 L137.0 294.3 L137.3 293.3 L137.6 292.2 L138.0 291.2 L138.6 290.1 L139.3 289.1 L140.1 288.3 L141.0 287.8 L141.9 287.6 L142.9 288.1 L143.9 288.8 L144.7 289.7 L145.4 290.5 L146.1 291.4 L146.7 292.3 L147.4 293.2 L147.9 294.1 L148.5 295.0 L149.1 296.0 L149.6 296.9 L150.2 297.9 L150.7 298.8 L151.3 299.7 L151.8 300.7 L152.4 301.6 L153.0 302.5 L153.6 303.4 L154.2 304.3 L154.9 305.3 L155.7 306.1 L156.6 306.7 L157.5 306.4 L158.4 305.6 L159.0 304.6 L159.6 303.6 L160.1 302.7 L160.6 301.7 L161.1 300.8 L161.6 299.8 L162.1 298.8 L162.6 297.9 L163.1 296.9 L163.8 295.9 L164.6 295.1 L165.5 295.1 L166.3 295.9 L167.1 296.9 L167.7 297.8 L168.1 298.8 L168.4 299.9 L168.6 300.9 L168.8 302.0 L169.1 303.1 L169.3 304.2 L169.5 305.2 L169.7 306.3 L169.9 307.4 L170.1 308.5 L170.2 309.6 L170.4 310.6 L170.5 311.7 L170.6 312.8 L170.7 313.9 L170.8 315.0 L170.9 316.1 L171.0 317.2 L171.1 318.3 L171.3 319.4 L171.4 320.4 L171.5 321.5 L171.6 322.6 L171.7 323.7 L171.8 324.8 L171.9 325.9 L172.0 327.0 L172.1 328.1 L172.2 329.2 L172.3 330.3 L172.4 331.3 L172.5 332.4 L172.6 333.5 L172.7 334.6 L172.8 335.7 L172.9 336.8 L173.0 337.9 L173.1 339.0 L173.2 340.1 L173.2 341.2 L173.3 342.3 L173.4 343.3 L173.5 344.4 L173.5 345.5 L173.6 346.6 L173.7 347.7 L173.7 348.8 L173.8 349.9 L173.9 351.0 L173.9 352.1 L174.0 353.2 L174.0 354.3 L174.1 355.4 L174.2 356.5 L174.2 357.6 L174.3 358.7 L174.3 359.7 L174.4 360.8 L174.5 361.9 L174.6 363.0 L174.6 364.1 L174.7 365.2 L174.8 366.3 L174.8 367.4 L174.9 368.5 L175.0 369.6 L175.1 370.7 L175.1 371.8 L175.2 372.9 L175.3 373.9 L175.4 375.0 L175.5 376.1 L175.6 377.2 L175.7 378.3 L175.7 379.4 L175.8 380.5 L175.9 381.6 L176.0 382.7 L176.1 383.8 L176.3 384.9 L176.4 385.9 L176.5 387.0 L176.6 388.1 L176.7 389.2 L176.8 390.3 L177.0 391.4 L177.1 392.5 L177.3 393.6 L177.4 394.6 L177.6 395.7 L177.8 396.8 L178.1 397.9 L178.3 398.9 L178.5 400.0 L178.7 401.1 L179.0 402.2 L179.2 403.2 L179.5 404.3 L179.7 405.4 L180.0 406.4 L180.2 407.5 L180.4 408.6 L180.7 409.6 L180.9 410.7 L181.2 411.8 L181.4 412.8 L181.7 413.9 L182.0 415.0 L182.2 416.0 L182.5 417.1 L182.8 418.1 L183.1 419.2 L183.3 420.3 L183.6 421.3 L183.9 422.4 L184.2 423.4 L184.6 424.4 L185.1 425.4 L185.6 426.4 L186.1 427.4 L186.7 428.3 L187.4 429.2 L188.1 430.0 L189.0 430.6 L190.0 431.2 Z" fill="rgba(255,0,0,0.2)" stroke="none"/>
<path d="M115.8 431.2 L116.3 430.2 L116.8 429.3 L117.3 428.3 L117.8 427.3 L118.2 426.3 L118.7 425.3 L119.1 424.3 L119.4 423.2 L119.8 422.2 L120.1 421.1 L120.4 420.1 L120.7 419.0 L121.0 418.0 L121.3 416.9 L121.6 415.9 L121.8 414.8 L122.1 413.7 L122.3 412.7 L122.5 411.6 L122.7 410.5 L122.9 409.4 L123.1 408.3 L123.2 407.3 L123.4 406.2 L123.6 405.1 L123.8 404.0 L123.9 402.9 L124.1 401.8 L124.3 400.8 L124.4 399.7 L124.6 398.6 L124.7 397.5 L124.8 396.4 L124.9 395.3 L125.1 394.2 L125.2 393.2 L125.3 392.1 L125.4 391.0 L125.5 389.9 L125.6 388.8 L125.7 387.7 L125.9 386.6 L126.0 385.5 L126.1 384.4 L126.2 383.4 L126.3 382.3 L126.4 381.2 L126.6 380.1 L126.7 379.0 L126.8 377.9 L126.9 376.8 L127.0 375.7 L127.1 374.6 L127.2 373.5 L127.3 372.5 L127.4 371.4 L127.5 370.3 L127.7 369.2 L127.8 368.1 L127.9 367.0 L128.0 365.9 L128.1 364.8 L128.2 363.7 L128.3 362.6 L128.4 361.6 L128.5 360.5 L128.6 359.4 L128.7 358.3 L128.8 357.2 L128.9 356.1 L129.0 355.0 L129.1 353.9 L129.2 352.8 L129.3 351.7 L129.4 350.7 L129.5 349.6 L129.6 348.5 L129.7 347.4 L129.8 346.3 L129.9 345.2 L130.0 344.1 L130.1 343.0 L130.2 341.9 L130.3 340.8 L130.4 339.7 L130.5 338.7 L130.6 337.6 L130.7 336.5 L130.8 335.4 L130.9 334.3 L131.0 333.2 L131.1 332.1 L131.2 331.0 L131.3 329.9 L131.4 328.9 L131.6 327.8 L131.7 326.7 L131.8 325.6 L131.9 324.5 L132.0 323.4 L132.1 322.3 L132.2 321.2 L132.4 320.1 L132.5 319.1 L132.6 318.0 L132.7 316.9 L132.8 315.8 L133.0 314.7 L133.1 313.6 L133.2 312.5 L133.3 311.4 L133.5 310.3 L133.7 309.3 L133.8 308.2 L134.1 307.1 L134.3 306.0 L134.5 305.0 L134.7 303.9 L135.0 302.8 L135.2 301.8 L135.5 300.7 L135.7 299.6 L136.0 298.6 L136.2 297.5 L136.4 296.4 L136.7 295.4 L137.0 294.3 L137.3 293.3 L137.6 292.2 L138.0 291.2 L138.6 290.1 L139.3 289.1 L140.1 288.3 L141.0 287.8 L141.9 287.6 L142.9 288.1 L143.9 288.8 L144.7 289.7 L145.4 290.5 L146.1 291.4 L146.7 292.3 L147.4 293.2 L147.9 294.1 L148.5 295.0 L149.1 296.0 L149.6 296.9 L150.2 297.9 L150.7 298.8 L151.3 299.7 L151.8 300.7 L152.4 301.6 L153.0 302.5 L153.6 303.4 L154.2 304.3 L154.9 305.3 L155.7 306.1 L156.6 306.7 L157.5 306.4 L158.4 305.6 L159.0 304.6 L159.6 303.6 L160.1 302.7 L160.6 301.7 L161.1 300.8 L161.6 299.8 L162.1 298.8 L162.6 297.9 L163.1 296.9 L163.8 295.9 L164.6 295.1 L165.5 295.1 L166.3 295.9 L167.1 296.9 L167.7 297.8 L168.1 298.8 L168.4 299.9 L168.6 300.9 L168.8 302.0 L169.1 303.1 L169.3 304.2 L169.5 305.2 L169.7 306.3 L169.9 307.4 L170.1 308.5 L170.2 309.6 L170.4 310.6 L170.5 311.7 L170.6 312.8 L170.7 313.9 L170.8 315.0 L170.9 316.1 L171.0 317.2 L171.1 318.3 L171.3 319.4 L171.4 320.4 L171.5 321.5 L171.6 322.6 L171.7 323.7 L171.8 324.8 L171.9 325.9 L172.0 327.0 L172.1 328.1 L172.2 329.2 L172.3 330.3 L172.4 331.3 L172.5 332.4 L172.6 333.5 L172.7 334.6 L172.8 335.7 L172.9 336.8 L173.0 337.9 L173.1 339.0 L173.2 340.1 L173.2 341.2 L173.3 342.3 L173.4 343.3 L173.5 344.4 L173.5 345.5 L173.6 346.6 L173.7 347.7 L173.7 348.8 L173.8 349.9 L173.9 351.0 L173.9 352.1 L174.0 353.2 L174.0 354.3 L174.1 355.4 L174.2 356.5 L174.2 357.6 L174.3 358.7 L174.3 359.7 L174.4 360.8 L174.5 361.9 L174.6 363.0 L174.6 364.1 L174.7 365.2 L174.8 366.3 L174.8 367.4 L174.9 368.5 L175.0 369.6 L175.1 370.7 L175.1 371.8 L175.2 372.9 L175.3 373.9 L175.4 375.0 L175.5 376.1 L175.6 377.2 L175.7 378.3 L175.7 379.4 L175.8 380.5 L175.9 381.6 L176.0 382.7 L176.1 383.8 L176.3 384.9 L176.4 385.9 L176.5 387.0 L176.6 388.1 L176.7 389.2 L176.8 390.3 L177.0 391.4 L177.1 392.5 L177.3 393.6 L177.4 394.6 L177.6 395.7 L177.8 396.8 L178.1 397.9 L178.3 398.9 L178.5 400.0 L178.7 401.1 L179.0 402.2 L179.2 403.2 L179.5 404.3 L179.7 405.4 L180.0 406.4 L180.2 407.5 L180.4 408.6 L180.7 409.6 L180.9 410.7 L181.2 411.8 L181.4 412.8 L181.7 413.9 L182.0 415.0 L182.2 416.0 L182.5 417.1 L182.8 418.1 L183.1 419.2 L183.3 420.3 L183.6 421.3 L183.9 422.4 L184.2 423.4 L184.6 424.4 L185.1 425.4 L185.6 426.4 L186.1 427.4 L186.7 428.3 L187.4 429.2 L188.1 430.0 L189.0 430.6 L190.0 431.2"/>
<path d="M99.8 431.2 L100.5 428.5 L101.1 425.9 L101.6 423.2 L102.0 420.5 L102.3 417.8 L102.6 415.1 L102.8 412.4 L103.0 409.7 L103.2 407.0 L103.4 404.2 L103.5 401.5 L103.6 398.8 L103.8 396.1 L103.9 393.3 L104.0 390.6 L104.1 387.9 L104.2 385.2 L104.3 382.4 L104.4 379.7 L104.5 377.0 L104.6 374.3 L104.6 371.5 L104.7 368.8 L104.8 366.1 L104.9 363.4 L104.9 360.6 L105.0 357.9 L105.1 355.2 L105.1 352.5 L105.2 349.7 L105.3 347.0 L105.3 344.3 L105.4 341.6 L105.4 338.8 L105.5 336.1 L105.5 333.4 L105.6 330.7 L105.6 327.9 L105.7 325.2 L105.7 322.5 L105.8 319.8 L105.8 317.0 L105.9 314.3 L105.9 311.6 L106.0 308.9 L106.0 306.1 L106.0 303.4 L106.1 300.7 L106.1 298.0 L106.2 295.2 L106.2 292.5 L106.2 289.8 L106.3 287.1 L106.3 284.3 L106.4 281.6 L106.4 278.9 L106.4 276.2 L106.5 273.4 L106.5 270.7 L106.6 268.0 L106.6 265.2 L106.6 262.5 L106.7 259.8 L106.7 257.1 L106.8 254.3 L106.8 251.6 L106.9 248.9 L106.9 246.2 L106.9 243.4 L107.0 240.7 L107.0 238.0 L107.1 235.3 L107.1 232.5 L107.2 229.8 L107.2 227.1 L107.3 224.4 L107.3 221.6 L107.3 218.9 L107.4 216.2 L107.4 213.5 L107.5 210.7 L107.5 208.0 L107.6 205.3 L107.6 202.6 L107.6 199.8 L107.7 197.1 L107.7 194.4 L107.8 191.7 L107.8 188.9 L107.9 186.2 L107.9 183.5 L108.0 180.8 L108.0 178.0 L108.1 175.3 L108.1 172.6 L108.1 169.9 L108.2 167.1 L108.2 164.4 L108.3 161.7 L108.3 159.0 L108.4 156.2 L108.4 153.5 L108.5 150.8 L108.5 148.1 L108.6 145.3 L108.6 142.6 L108.7 139.9 L108.7 137.2 L108.7 134.4 L108.8 131.7 L108.8 129.0 L108.9 126.2 L108.9 123.5 L108.9 120.8 L109.0 118.1 L109.0 115.3 L109.1 112.6 L109.1 109.9 L109.2 107.2 L109.3 104.4 L109.3 101.7 L109.4 99.0 L109.5 96.3 L109.6 93.5 L109.6 90.8 L109.7 88.1 L109.8 85.4 L109.8 82.6 L109.9 79.9 L110.0 77.2 L110.1 74.5 L110.1 71.7 L110.2 69.0 L110.3 66.3 L110.4 63.6 L110.5 60.8 L110.6 58.1 L110.7 55.4 L110.8 52.7 L110.9 50.0 L111.0 47.2 L111.1 44.5 L111.3 41.8 L111.4 39.1 L111.6 36.3 L111.8 33.5 L112.0 29.9 L112.3 26.6 L112.6 24.5 L112.9 24.7 L113.3 27.3 L113.7 30.8 L114.1 33.8 L114.5 36.5 L115.0 39.2 L115.4 41.9 L115.9 44.6 L116.3 47.3 L116.7 50.0 L117.0 52.7 L117.3 55.4 L117.6 58.1 L117.9 60.8 L118.1 63.5 L118.3 66.2 L118.6 68.9 L118.8 71.7 L118.9 74.4 L119.1 77.1 L119.3 79.8 L119.4 82.6 L119.6 85.3 L119.7 88.0 L119.8 90.7 L119.9 93.4 L120.0 96.2 L120.1 98.9 L120.1 101.6 L120.2 104.3 L120.3 107.1 L120.3 109.8 L120.4 112.5 L120.5 115.3 L120.5 118.0 L120.6 120.7 L120.6 123.4 L120.7 126.2 L120.7 128.9 L120.8 131.6 L120.8 134.3 L120.9 137.1 L120.9 139.8 L121.0 142.5 L121.1 145.2 L121.1 148.0 L121.2 150.7 L121.2 153.4 L121.3 156.1 L121.4 158.9 L121.4 161.6 L121.5 164.3 L121.6 167.0 L121.6 169.8 L121.7 172.5 L121.8 175.2 L121.8 177.9 L121.9 180.7 L122.0 183.4 L122.1 186.1 L122.1 188.8 L122.2 191.6 L122.3 194.3 L122.3 197.0 L122.4 199.7 L122.5 202.5 L122.6 205.2 L122.6 207.9 L122.7 210.6 L122.8 213.4 L122.9 216.1 L123.0 218.8 L123.0 221.5 L123.1 224.3 L123.2 227.0 L123.3 229.7 L123.4 232.4 L123.4 235.1 L123.5 237.9 L123.6 240.6 L123.7 243.3 L123.8 246.0 L123.9 248.8 L124.0 251.5 L124.1 254.2 L124.1 256.9 L124.2 259.7 L124.3 262.4 L124.4 265.1 L124.5 267.8 L124.5 270.6 L124.6 273.3 L124.7 276.0 L124.8 278.7 L124.9 281.5 L124.9 284.2 L125.0 286.9 L125.1 289.6 L125.2 292.4 L125.2 295.1 L125.3 297.8 L125.4 300.5 L125.4 303.3 L125.5 306.0 L125.6 308.7 L125.7 311.4 L125.7 314.2 L125.8 316.9 L125.9 319.6 L125.9 322.3 L126.0 325.1 L126.1 327.8 L126.1 330.5 L126.2 333.2 L126.2 336.0 L126.3 338.7 L126.4 341.4 L126.4 344.1 L126.5 346.9 L126.5 349.6 L126.6 352.3 L126.6 355.0 L126.6 357.8 L126.7 360.5 L126.7 363.2 L126.7 366.0 L126.8 368.7 L126.8 371.4 L126.9 374.1 L126.9 376.9 L127.0 379.6 L127.0 382.3 L127.1 385.0 L127.2 387.8 L127.2 390.5 L127.3 393.2 L127.4 395.9 L127.5 398.6 L127.7 401.4 L127.9 404.1 L128.1 406.8 L128.3 409.5 L128.6 412.2 L128.8 415.0 L129.1 417.7 L129.4 420.4 L129.7 423.1 L130.0 425.8 L130.3 428.5 L130.7 431.2 Z" fill="rgba(0,255,0,0.2)" stroke="none"/>
<path d="M99.8 431.2 L100.5 428.5 L101.1 425.9 L101.6 423.2 L102.0 420.5 L102.3 417.8 L102.6 415.1 L102.8 412.4 L103.0 409.7 L103.2 407.0 L103.4 404.2 L103.5 401.5 L103.6 398.8 L103.8 396.1 L103.9 393.3 L104.0 390.6 L104.1 387.9 L104.2 385.2 L104.3 382.4 L104.4 379.7 L104.5 377.0 L104.6 374.3 L104.6 371.5 L104.7 368.8 L104.8 366.1 L104.9 363.4 L104.9 360.6 L105.0 357.9 L105.1 355.2 L105.1 352.5 L105.2 349.7 L105.3 347.0 L105.3 344.3 L105.4 341.6 L105.4 338.8 L105.5 336.1 L105.5 333.4 L105.6 330.7 L105.6 327.9 L105.7 325.2 L105.7 322.5 L105.8 319.8 L105.8 317.0 L105.9 314.3 L105.9 311.6 L106.0 308.9 L106.0 306.1 L106.0 303.4 L106.1 300.7 L106.1 298.0 L106.2 295.2 L106.2 292.5 L106.2 289.8 L106.3 287.1 L106.3 284.3 L106.4 281.6 L106.4 278.9 L106.4 276.2 L106.5 273.4 L106.5 270.7 L106.6 268.0 L106.6 265.2 L106.6 262.5 L106.7 259.8 L106.7 257.1 L106.8 254.3 L106.8 251.6 L106.9 248.9 L106.9 246.2 L106.9 243.4 L107.0 240.7 L107.0 238.0 L107.1 235.3 L107.1 232.5 L107.2 229.8 L107.2 227.1 L107.3 224.4 L107.3 221.6 L107.3 218.9 L107.4 216.2 L107.4 213.5 L107.5 210.7 L107.5 208.0 L107.6 205.3 L107.6 202.6 L107.6 199.8 L107.7 197.1 L107.7 194.4 L107.8 191.7 L107.8 188.9 L107.9 186.2 L107.9 183.5 L108.0 180.8 L108.0 178.0 L108.1 175.3 L108.1 172.6 L108.1 169.9 L108.2 167.1 L108.2 164.4 L108.3 161.7 L108.3 159.0 L108.4 156.2 L108.4 153.5 L108.5 150.8 L108.5 148.1 L108.6 145.3 L108.6 142.6 L108.7 139.9 L108.7 137.2 L108.7 134.4 L108.8 131.7 L108.8 129.0 L108.9 126.2 L108.9 123.5 L108.9 120.8 L109.0 118.1 L109.0 115.3 L109.1 112.6 L109.1 109.9 L109.2 107.2 L109.3 104.4 L109.3 101.7 L109.4 99.0 L109.5 96.3 L109.6 93.5 L109.6 90.8 L109.7 88.1 L109.8 85.4 L109.8 82.6 L109.9 79.9 L110.0 77.2 L110.1 74.5 L110.1 71.7 L110.2 69.0 L110.3 66.3 L110.4 63.6 L110.5 60.8 L110.6 58.1 L110.7 55.4 L110.8 52.7 L110.9 50.0 L111.0 47.2 L111.1 44.5 L111.3 41.8 L111.4 39.1 L111.6 36.3 L111.8 33.5 L112.0 29.9 L112.3 26.6 L112.6 24.5 L112.9 24.7 L113.3 27.3 L113.7 30.8 L114.1 33.8 L114.5 36.5 L115.0 39.2 L115.4 41.9 L115.9 44.6 L116.3 47.3 L116.7 50.0 L117.0 52.7 L117.3 55.4 L117.6 58.1 L117.9 60.8 L118.1 63.5 L118.3 66.2 L118.6 68.9 L118.8 71.7 L118.9 74.4 L119.1 77.1 L119.3 79.8 L119.4 82.6 L119.6 85.3 L119.7 88.0 L119.8 90.7 L119.9 93.4 L120.0 96.2 L120.1 98.9 L120.1 101.6 L120.2 104.3 L120.3 107.1 L120.3 109.8 L120.4 112.5 L120.5 115.3 L120.5 118.0 L120.6 120.7 L120.6 123.4 L120.7 126.2 L120.7 128.9 L120.8 131.6 L120.8 134.3 L120.9 137.1 L120.9 139.8 L121.0 142.5 L121.1 145.2 L121.1 148.0 L121.2 150.7 L121.2 153.4 L121.3 156.1 L121.4 158.9 L121.4 161.6 L121.5 164.3 L121.6 167.0 L121.6 169.8 L121.7 172.5 L121.8 175.2 L121.8 177.9 L121.9 180.7 L122.0 183.4 L122.1 186.1 L122.1 188.8 L122.2 191.6 L122.3 194.3 L122.3 197.0 L122.4 199.7 L122.5 202.5 L122.6 205.2 L122.6 207.9 L122.7 210.6 L122.8 213.4 L122.9 216.1 L123.0 218.8 L123.0 221.5 L123.1 224.3 L123.2 227.0 L123.3 229.7 L123.4 232.4 L123.4 235.1 L123.5 237.9 L123.6 240.6 L123.7 243.3 L123.8 246.0 L123.9 248.8 L124.0 251.5 L124.1 254.2 L124.1 256.9 L124.2 259.7 L124.3 262.4 L124.4 265.1 L124.5 267.8 L124.5 270.6 L124.6 273.3 L124.7 276.0 L124.8 278.7 L124.9 281.5 L124.9 284.2 L125.0 286.9 L125.1 289.6 L125.2 292.4 L125.2 295.1 L125.3 297.8 L125.4 300.5 L125.4 303.3 L125.5 306.0 L125.6 308.7 L125.7 311.4 L125.7 314.2 L125.8 316.9 L125.9 319.6 L125.9 322.3 L126.0 325.1 L126.1 327.8 L126.1 330.5 L126.2 333.2 L126.2 336.0 L126.3 338.7 L126.4 341.4 L126.4 344.1 L126.5 346.9 L126.5 349.6 L126.6 352.3 L126.6 355.0 L126.6 357.8 L126.7 360.5 L126.7 363.2 L126.7 366.0 L126.8 368.7 L126.8 371.4 L126.9 374.1 L126.9 376.9 L127.0 379.6 L127.0 382.3 L127.1 385.0 L127.2 387.8 L127.2 390.5 L127.3 393.2 L127.4 395.9 L127.5 398.6 L127.7 401.4 L127.9 404.1 L128.1 406.8 L128.3 409.5 L128.6 412.2 L128.8 415.0 L129.1 417.7 L129.4 420.4 L129.7 423.1 L130.0 425.8 L130.3 428.5 L130.7 431.2"/>
<path d="M99.8 431.2 H705.5"/>
</g>
<path d="M72 0.5 H799.5 V447.55 H72 Z" fill="none" stroke="#000" stroke-width="1"/>
<g stroke="#000" stroke-width="1">
<line x1="98.6" y1="447.5" x2="98.6" y2="456.6"/>
<line x1="267.1" y1="447.5" x2="267.1" y2="456.6"/>
<line x1="435.6" y1="447.5" x2="435.6" y2="456.6"/>
<line x1="604.1" y1="447.5" x2="604.1" y2="456.6"/>
<line x1="772.6" y1="447.5" x2="772.6" y2="456.6"/>
<line x1="62.9" y1="431.2" x2="72" y2="431.2"/>
<line x1="62.9" y1="355.9" x2="72" y2="355.9"/>
<line x1="62.9" y1="280.5" x2="72" y2="280.5"/>
<line x1="62.9" y1="205.2" x2="72" y2="205.2"/>
<line x1="62.9" y1="129.8" x2="72" y2="129.8"/>
<line x1="62.9" y1="54.5" x2="72" y2="54.5"/>
</g>
<g font-size="21.8" text-anchor="middle">
<text x="98.6" y="479.5">0</text>
<text x="267.1" y="479.5">200</text>
<text x="435.6" y="479.5">400</text>
<text x="604.1" y="479.5">600</text>
<text x="772.6" y="479.5">800</text>
<text font-size="21.1" transform="translate(51.4 431.2) rotate(-90) scale(1,1.033)">0.00</text>
<text font-size="21.1" transform="translate(51.4 355.9) rotate(-90) scale(1,1.033)">0.01</text>
<text font-size="21.1" transform="translate(51.4 280.5) rotate(-90) scale(1,1.033)">0.02</text>
<text font-size="21.1" transform="translate(51.4 205.2) rotate(-90) scale(1,1.033)">0.03</text>
<text font-size="21.1" transform="translate(51.4 129.8) rotate(-90) scale(1,1.033)">0.04</text>
<text font-size="21.1" transform="translate(51.4 54.5) rotate(-90) scale(1,1.033)">0.05</text>
<text x="435.8" y="514.2">Clearance (mL/min)</text>
<text font-size="20.6" transform="translate(16.3 224.8) rotate(-90) scale(1,1.058)">Density</text>
</g>
<g font-size="23.4">
<rect x="567.7" y="21.6" width="16.8" height="13.6" fill="rgba(0,255,0,0.2)" stroke="#000" stroke-width="0.9"/>
<text transform="translate(605.8 36.4) scale(1,0.945)">p-Cresol sulfate</text>
<rect x="567.7" y="49.7" width="16.8" height="13.6" fill="rgba(255,0,0,0.2)" stroke="#000" stroke-width="0.9"/>
<text transform="translate(605.8 64.5) scale(1,0.945)">Indoxyl sulfate</text>
<rect x="567.7" y="77.8" width="16.8" height="13.6" fill="#fff" stroke="#000" stroke-width="0.9"/>
<path d="M567.7 86.7 L576.6 77.8 M575.8 91.4 L584.5 82.7" stroke="#000" stroke-width="0.9" fill="none"/>
<text transform="translate(605.8 92.6) scale(1,0.945)">Creatinine</text>
<rect x="567.7" y="105.9" width="16.8" height="13.6" fill="rgba(0,0,255,0.2)" stroke="#000" stroke-width="0.9"/>
<text transform="translate(605.8 120.7) scale(1,0.945)">Cinnamoylglycine</text>
<rect x="567.7" y="134.0" width="16.8" height="13.6" fill="rgba(0,255,255,0.2)" stroke="#000" stroke-width="0.9"/>
<text transform="translate(605.8 148.8) scale(1,0.945)">Hippurate</text>
</g>
</svg>
</body></html>
